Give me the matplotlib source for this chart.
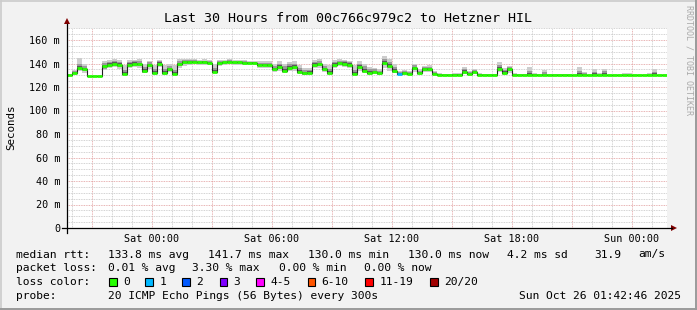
import numpy as np
import matplotlib.pyplot as plt
from matplotlib.patches import Rectangle, Polygon

W, H = 697, 310

# median rtt per 15 min bin (ms), starting Fri 19:45
median_ms = [130.2, 131.5, 136.5, 135.0, 129.4, 129.4, 129.4, 137.5, 139.0, 140.0,
             139.0, 131.0, 139.0, 140.0, 139.5, 133.5, 138.5, 132.0, 140.0, 132.0,
             135.0, 131.0, 139.5, 141.0, 141.5, 141.5, 141.0, 141.0, 140.5, 133.0,
             140.5, 141.0, 141.5, 141.0, 141.0, 140.5, 140.5, 140.5, 139.0, 139.0,
             139.0, 135.0, 137.0, 134.0, 136.5, 137.0, 133.0, 131.5, 132.0, 139.0,
             139.5, 135.0, 132.0, 139.0, 140.5, 140.0, 139.0, 131.0, 137.0, 134.0,
             132.0, 132.5, 131.5, 140.5, 138.0, 133.5, 131.0, 131.5, 131.0, 136.0,
             131.5, 135.0, 135.5, 131.0, 130.2, 130.2, 130.2, 130.2, 130.2, 133.0,
             131.0, 132.5, 130.2, 130.2, 130.2, 130.2, 135.5, 132.0, 135.0, 130.5,
             130.2, 130.2, 130.2, 130.2, 130.2, 130.2, 130.2, 130.2, 130.2, 130.2,
             130.2, 130.0, 130.0, 130.0, 130.0, 130.0, 130.0, 130.0, 130.0, 130.0,
             130.0, 130.0, 130.0, 130.0, 130.0, 130.0, 130.0, 130.0, 130.0, 130.0]

# smoke spread above / below the median (ms)
smoke_up = [0.6, 3, 8, 5, 0.5, 0.5, 0.5, 5, 4, 4,
            4, 8, 4, 3, 4, 6, 4, 7, 3, 7,
            5, 8, 4, 3, 2.5, 2, 2, 2.5, 2.5, 7,
            2.5, 2, 2, 2, 2, 2.5, 2, 2, 3, 3,
            3, 5, 5, 6, 5, 5, 6, 5, 4, 4,
            4, 5, 7, 4, 3, 3, 3.5, 8, 5, 6,
            5, 4, 4, 6, 6, 6, 3, 3, 3, 4,
            4, 3, 3, 3, 1.5, 1, 1, 1.5, 1.5, 4,
            3, 3, 1.5, 1, 1, 1, 6, 4, 3, 1.5,
            1, 1, 7, 1.5, 1, 4, 1.2, 1, 0.8, 0.8,
            0.8, 1, 7, 3, 1, 5, 1.5, 5.5, 1, 0.8,
            0.8, 1.5, 1.5, 0.8, 0.8, 1, 1.5, 5, 1, 1]
smoke_down = [0.3, 1, 3, 3, 0.3, 0.3, 0.3, 3, 3, 3,
              4, 1.5, 3, 3, 3, 2, 3, 1.5, 3, 1.5,
              2, 1.5, 3, 3, 2.5, 2, 2, 2, 2, 1.5,
              2.5, 2, 2, 2, 2, 2, 2, 2, 2.5, 2.5,
              3, 2.5, 3, 2, 3, 3, 2, 1.5, 1.5, 3,
              3, 2, 1.5, 3, 3, 3, 3, 1.5, 3, 2,
              1.5, 1.5, 1.5, 4, 4, 2, 1, 1, 1, 3,
              1, 2.5, 2.5, 1, 0.5, 0.3, 0.3, 0.3, 0.3, 2,
              1, 1.5, 0.3, 0.3, 0.3, 0.3, 3, 1.5, 3, 0.5] + [0.3] * 30

# lost pings (of 20) per bin
loss_count = [0] * 120
loss_count[66] = 1

start_hour = -4.25   # relative to Sat 00:00
bin_hours = 0.25

time_ticks = [0, 6, 12, 18, 24]
time_labels = ["Sat 00:00", "Sat 06:00", "Sat 12:00", "Sat 18:00", "Sun 00:00"]
y_ticks = [0, 20, 40, 60, 80, 100, 120, 140, 160]
y_labels = ["0", "20 m", "40 m", "60 m", "80 m", "100 m", "120 m", "140 m", "160 m"]

loss_names = ["0", "1", "2", "3", "4-5", "6-10", "11-19", "20/20"]
loss_colors = ["#26ff00", "#00b8ff", "#0059ff", "#7e00ff", "#ff00fe", "#ff5500", "#ff0000", "#a00000"]

rtt_stats = ["133.8 ms avg", "141.7 ms max", "130.0 ms min", "130.0 ms now", "4.2 ms sd", "31.9", "am/s"]
loss_stats = ["0.01 % avg", "3.30 % max", "0.00 % min", "0.00 % now"]
probe_text = "20 ICMP Echo Pings (56 Bytes) every 300s"
stamp_text = "Sun Oct 26 01:42:46 2025"
title = "Last 30 Hours from 00c766c979c2 to Hetzner HIL"

MONO = "DejaVu Sans Mono"


def loss_index(n):
    if n <= 3:
        return n
    if n <= 5:
        return 4
    if n <= 10:
        return 5
    if n <= 19:
        return 6
    return 7


fig = plt.figure(figsize=(W / 100, H / 100), dpi=100)
fig.patch.set_facecolor("#f2f2f2")

# plot area in pixels: x 67..667, y 228 (0) up to 170 ms
x0, x1, y0 = 67, 667, 228
ymax = 170
ytop = y0 - ymax * 188 / 160
ax = fig.add_axes([x0 / W, 1 - y0 / H, (x1 - x0) / W, (y0 - ytop) / H])
ax.set_facecolor("white")

med = np.array(median_ms)
up = np.array(smoke_up)
dn = np.array(smoke_down)
n = len(med)
edges = start_hour + bin_hours * np.arange(n + 1)
ext = lambda a: np.append(a, a[-1])

# smoke layers, lighter further from the median
ax.fill_between(edges, ext(med - dn), ext(med + up), step="post", color="#cdcdcd", lw=0, zorder=2)
mid_up = np.minimum(up * 0.6, 3.5)
mid_dn = np.minimum(dn * 0.6, 2.0)
ax.fill_between(edges, ext(med - mid_dn), ext(med + mid_up), step="post", color="#9a9a9a", lw=0, zorder=2.1)
in_up = np.minimum(up * 0.3, 1.5)
in_dn = np.minimum(dn * 0.3, 1.0)
ax.fill_between(edges, ext(med - in_dn), ext(med + in_up), step="post", color="#5a5a5a", lw=0, zorder=2.2)

# median line
ax.step(edges, ext(med), where="post", color="#202020", lw=0.8, zorder=3)
seg_colors = [loss_colors[loss_index(c)] for c in loss_count]
ax.hlines(med, edges[:-1], edges[1:], colors=seg_colors, lw=2.0, zorder=4)

ax.set_xlim(edges[0], edges[-1])
ax.set_ylim(0, ymax)

ax.set_xticks(np.arange(-3, 26, 3))
ax.set_xticklabels([time_labels[time_ticks.index(t)] if t in time_ticks else "" for t in range(-3, 26, 3)])
ax.set_xticks(np.arange(-4, 26, 1), minor=True)
ax.set_yticks(y_ticks)
ax.set_yticklabels(y_labels)
ax.set_yticks(np.arange(0, ymax + 1, 5), minor=True)

ax.grid(which="minor", color="#c4c4c4", ls=(0, (1, 1)), lw=0.6, zorder=1)
ax.grid(which="major", color="#e09a9a", ls=(0, (1, 1)), lw=0.6, zorder=1.5)
ax.tick_params(which="both", length=0)
ax.tick_params(axis="y", pad=5)
ax.tick_params(axis="x", pad=4)
for lab in ax.get_xticklabels() + ax.get_yticklabels():
    lab.set_fontfamily(MONO)
    lab.set_fontsize(7.3)
for s in ax.spines.values():
    s.set_visible(False)

# overlay in pixel coordinates
ov = fig.add_axes([0, 0, 1, 1], zorder=10)
ov.set_xlim(0, W)
ov.set_ylim(H, 0)
ov.axis("off")
ov.patch.set_alpha(0)

# frame
ov.plot([0.5, W - 0.5], [0.5, 0.5], color="#cbcbcb", lw=1.2)
ov.plot([0.5, 0.5], [0.5, H - 0.5], color="#cbcbcb", lw=1.2)
ov.plot([0.5, W - 0.5], [H - 0.8, H - 0.8], color="#9a9a9a", lw=1.4)
ov.plot([W - 0.8, W - 0.8], [0.5, H - 0.5], color="#9a9a9a", lw=1.4)

# axes with arrows
ov.plot([62, 672], [y0, y0], color="black", lw=0.9)
ov.plot([x0, x0], [233, 24], color="black", lw=0.9)
ov.add_patch(Polygon([[x0 - 3, 24], [x0 + 3, 24], [x0, 18]], closed=True, color="#800000", lw=0))
ov.add_patch(Polygon([[671, y0 - 3], [671, y0 + 3], [677, y0]], closed=True, color="#800000", lw=0))

ov.text(348, 18, title, ha="center", va="center", fontfamily=MONO, fontsize=9.6)
ov.text(11, 127, "Seconds", ha="center", va="center", rotation=90, fontfamily=MONO, fontsize=7.8)
ov.text(689, 60, "RRDTOOL / TOBI OETIKER", ha="center", va="center", rotation=270,
        fontfamily=MONO, fontsize=6.0, color="#aaaaaa")

LF = 8.1
ov.text(16, 254.5, "median rtt:", va="center", fontfamily=MONO, fontsize=LF)
for s, x in zip(rtt_stats, [107.6, 207.6, 307.6, 407.6, 506.7, 594, 638.7]):
    ov.text(x, 254.5, s, va="center", fontfamily=MONO, fontsize=LF)

ov.text(16, 268.3, "packet loss:", va="center", fontfamily=MONO, fontsize=LF)
for s, x in zip(loss_stats, [107.6, 192, 279, 364.4]):
    ov.text(x, 268.3, s, va="center", fontfamily=MONO, fontsize=LF)

ov.text(16, 282.3, "loss color:", va="center", fontfamily=MONO, fontsize=LF)
box_x = [109, 145.3, 182.2, 219.6, 256.4, 307.6, 365.3, 430.2]
for name, col, bx in zip(loss_names, loss_colors, box_x):
    ov.add_patch(Rectangle((bx, 278.3), 7.5, 7.5, facecolor=col, edgecolor="black", lw=0.8))
    ov.text(bx + 14, 282.3, name, va="center", fontfamily=MONO, fontsize=LF)

ov.text(16, 296, "probe:", va="center", fontfamily=MONO, fontsize=LF)
ov.text(107.6, 296, probe_text, va="center", fontfamily=MONO, fontsize=LF)
ov.text(681, 296, stamp_text, va="center", ha="right", fontfamily=MONO, fontsize=LF)

fig.savefig("out.png", dpi=100, facecolor=fig.get_facecolor())
